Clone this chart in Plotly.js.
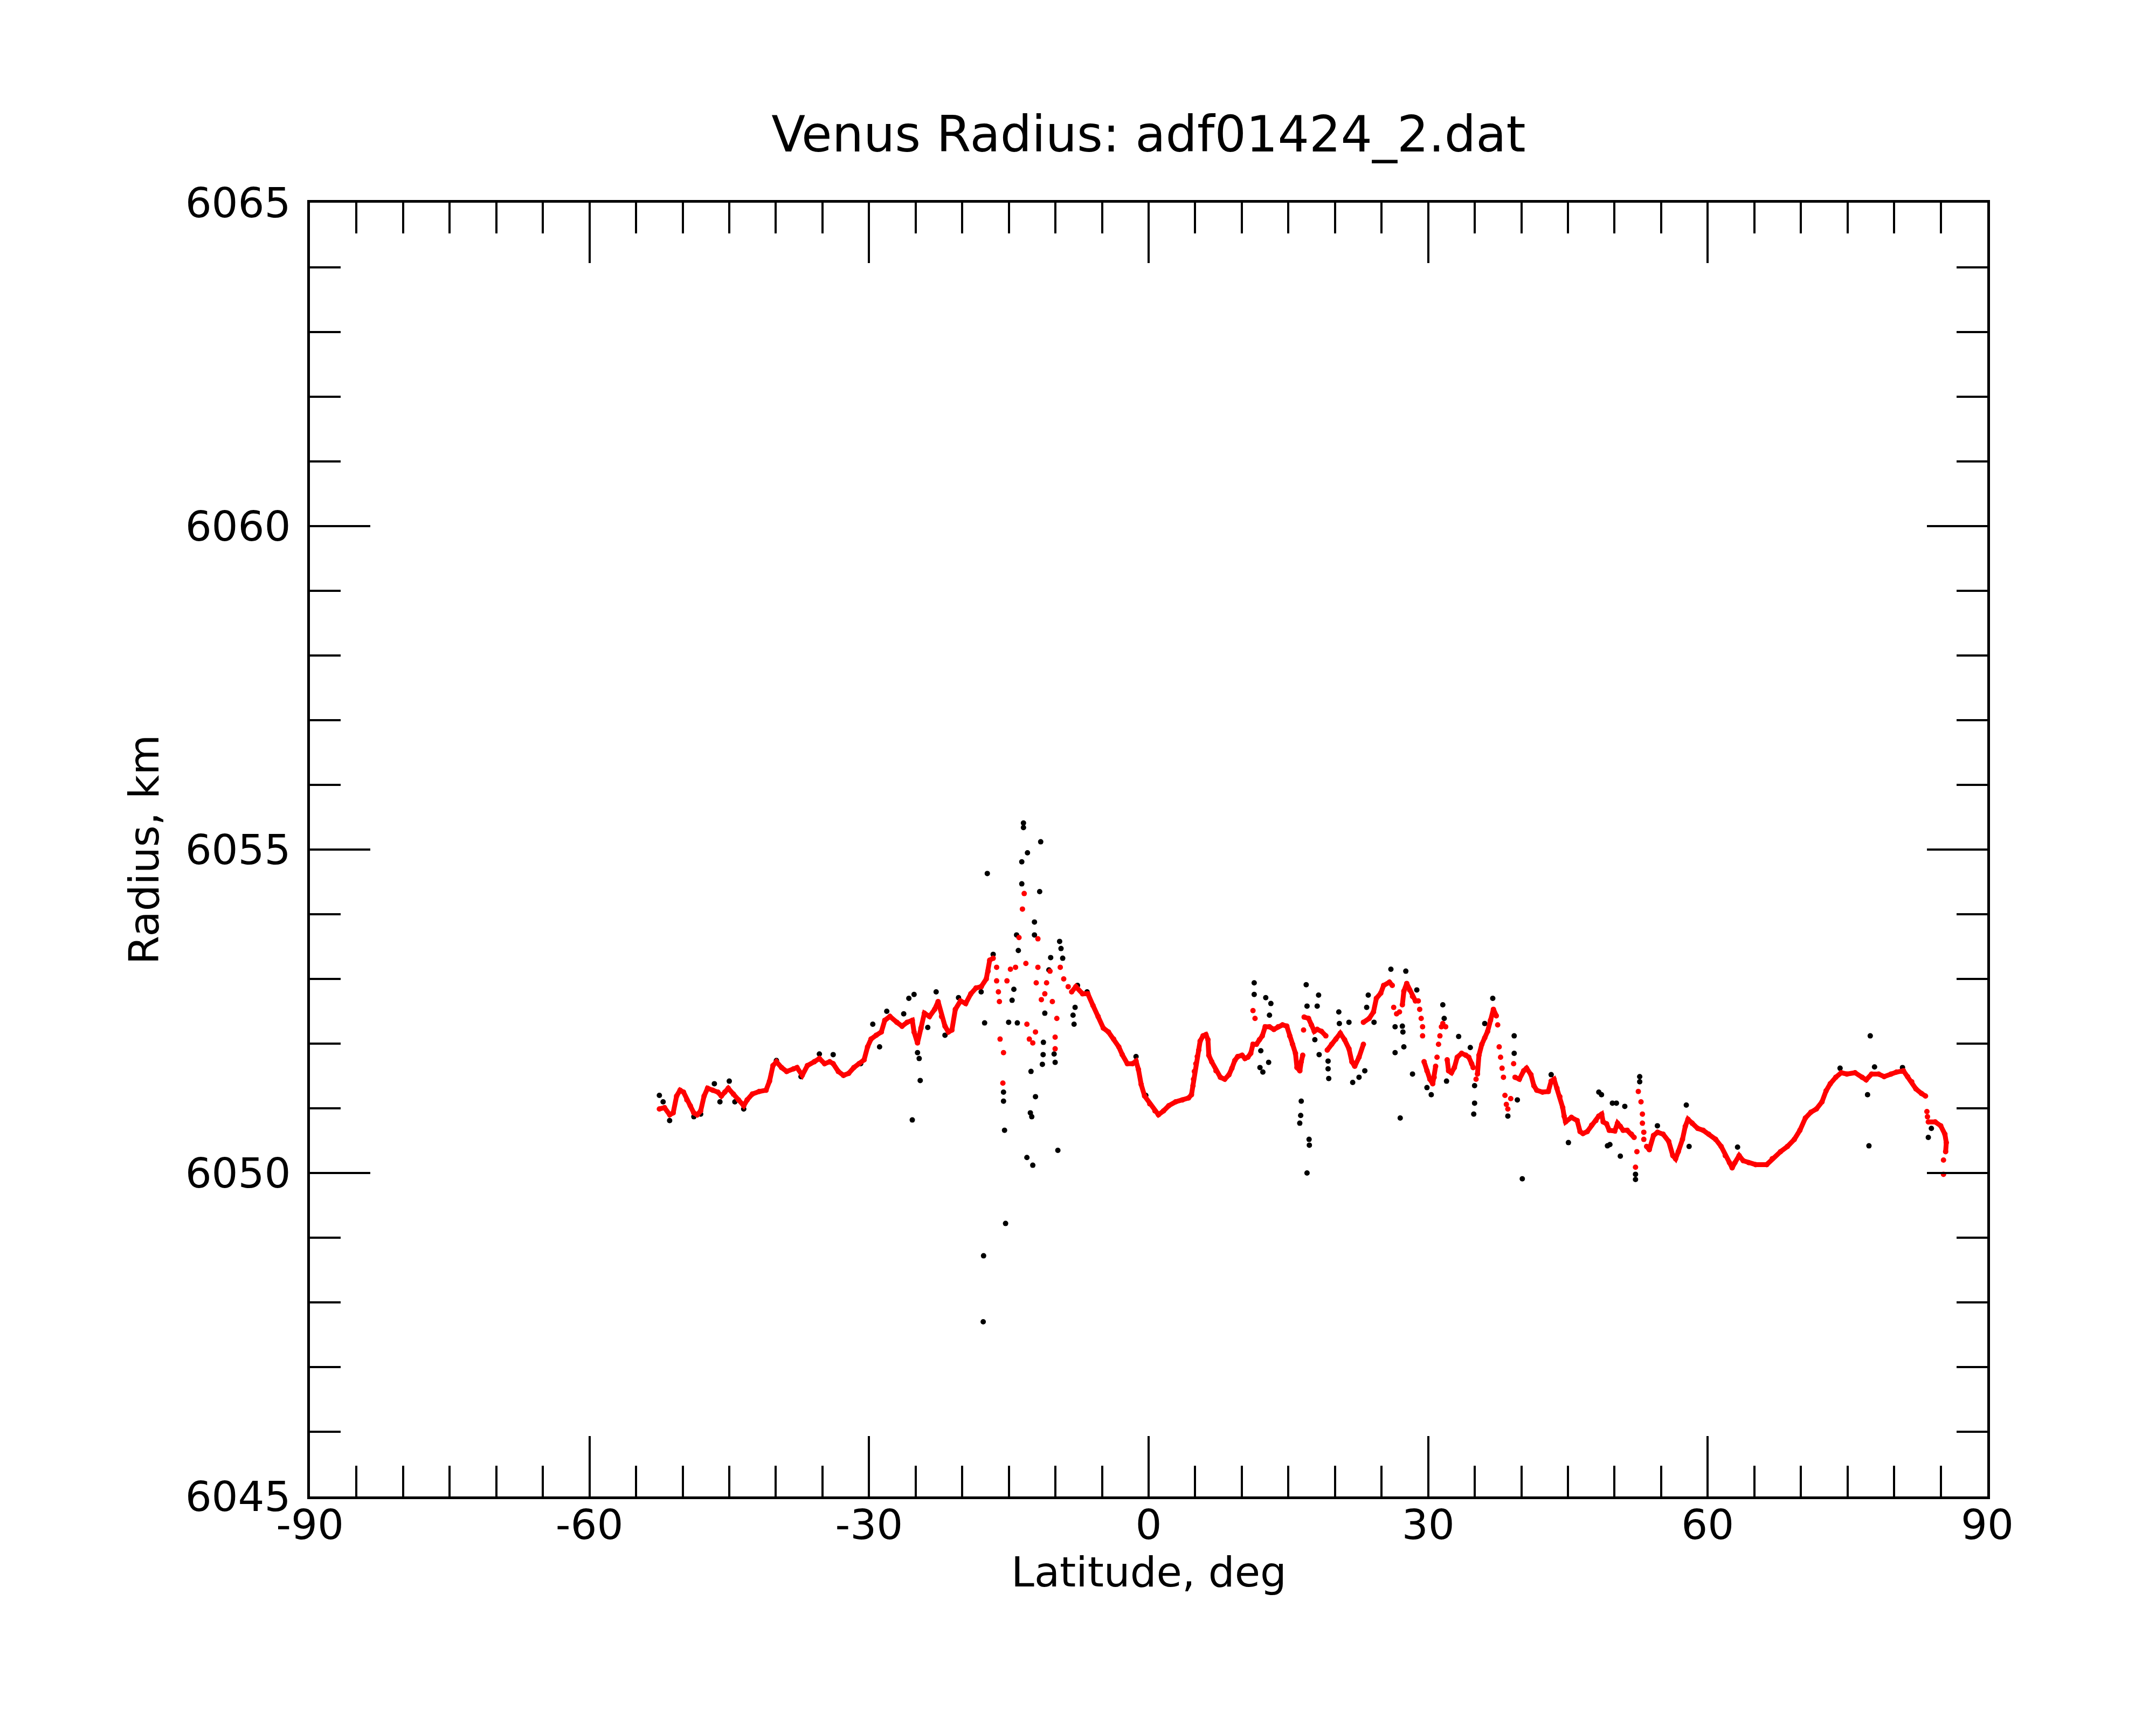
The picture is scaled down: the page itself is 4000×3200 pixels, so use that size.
<!DOCTYPE html>
<html>
<head>
<meta charset="utf-8">
<script src="https://cdn.plot.ly/plotly-3.0.1.min.js"></script>
<style>html,body{margin:0;padding:0;background:#fff;}</style>
</head>
<body>
<div id="chart" style="width:4000px;height:3200px;"></div>
<script>
// ---------- tick labels ----------
const xTickVals = [-90, -60, -30, 0, 30, 60, 90];
const xTickText = ['-90', '-60', '-30', '0', '30', '60', '90'];
const yTickVals = [6045, 6050, 6055, 6060, 6065];
const yTickText = ['6045', '6050', '6055', '6060', '6065'];

// ---------- filtered profile (red), continuous stretches ----------
const redALat = [-52.50,-51.95,-51.39,-51.02,-50.65,-50.28,-49.91,-49.55,-49.18,-48.81,-48.44,-48.07,-47.70,-47.33,-46.78,-46.22,-45.85,-45.48,-45.11,-44.56,-44.01,-43.45,-43.08,-42.53,-41.79,-41.05,-40.68,-40.31,-39.94,-39.39,-38.84,-38.10,-37.73,-37.17,-36.62,-35.88,-35.33,-34.77,-34.22,-33.85,-33.30,-32.74,-32.19,-31.63,-31.08,-30.53,-30.16,-29.79,-29.23,-28.68,-28.31,-27.76,-27.02,-26.46,-25.91,-25.36,-25.17,-24.80,-24.43,-24.06,-23.51,-22.96,-22.59,-22.22,-21.85,-21.48,-21.11,-20.74,-20.19,-19.63,-19.08,-18.52,-17.97,-17.42,-17.23,-17.05,-16.68];
const redAR = [6050.99,6051.01,6050.90,6050.93,6051.19,6051.28,6051.25,6051.13,6051.04,6050.93,6050.90,6050.96,6051.19,6051.31,6051.28,6051.25,6051.19,6051.25,6051.31,6051.22,6051.13,6051.04,6051.13,6051.22,6051.26,6051.28,6051.42,6051.66,6051.72,6051.63,6051.57,6051.61,6051.63,6051.51,6051.66,6051.72,6051.77,6051.69,6051.72,6051.69,6051.57,6051.51,6051.54,6051.63,6051.69,6051.75,6051.95,6052.07,6052.13,6052.18,6052.36,6052.42,6052.33,6052.27,6052.33,6052.36,6052.18,6052.01,6052.24,6052.47,6052.42,6052.53,6052.65,6052.42,6052.27,6052.18,6052.21,6052.53,6052.66,6052.62,6052.77,6052.86,6052.88,6053.00,6053.12,6053.29,6053.32];

const redBLat = [-8.26,-7.81,-7.08,-6.52,-5.97,-5.42,-4.86,-4.31,-3.75,-3.20,-2.83,-2.28,-1.72,-1.35,-1.09,-0.80,-0.43,0.12,0.68,1.05,1.60,2.16,2.90,3.63,4.29,4.60,4.76,4.82,4.91,5.07,5.22,5.38,5.53,5.84,6.15,6.37,6.46,6.77,7.23,7.70,8.17,8.63,8.94,9.25,9.56,10.03,10.34,10.65,10.96,11.20,11.57,11.89,12.20,12.51,12.97,13.44,13.90,14.37,14.83,15.14,15.45,15.76,15.92,16.23,16.38,16.54];
const redBR = [6052.80,6052.88,6052.77,6052.77,6052.59,6052.42,6052.24,6052.18,6052.07,6051.95,6051.83,6051.69,6051.69,6051.73,6051.60,6051.37,6051.19,6051.07,6050.96,6050.90,6050.96,6051.04,6051.10,6051.13,6051.16,6051.21,6051.35,6051.45,6051.57,6051.69,6051.80,6051.90,6052.04,6052.12,6052.14,6052.06,6051.82,6051.72,6051.58,6051.48,6051.45,6051.52,6051.62,6051.74,6051.80,6051.82,6051.77,6051.79,6051.85,6051.99,6051.99,6052.06,6052.12,6052.26,6052.26,6052.22,6052.26,6052.29,6052.27,6052.12,6051.99,6051.85,6051.63,6051.58,6051.72,6051.82];

const redCLat = [16.69,17.16,17.47,17.78,18.09,18.55,19.02];
const redCR = [6052.41,6052.39,6052.29,6052.19,6052.22,6052.19,6052.12];
const redDLat = [19.17,19.64,20.10,20.57,21.03,21.50,21.81,22.12,22.58,23.05];
const redDR = [6051.90,6051.99,6052.07,6052.16,6052.06,6051.92,6051.72,6051.65,6051.79,6051.99];
const redELat = [23.05,23.67,24.13,24.44,24.91,25.22,25.84,26.15];
const redER = [6052.33,6052.39,6052.49,6052.70,6052.78,6052.90,6052.95,6052.90];
const redFLat = [27.23,27.39,27.70,28.01,28.32,28.63,28.94];
const redFR = [6052.60,6052.81,6052.93,6052.83,6052.73,6052.66,6052.66];
const redGLat = [29.56,29.87,30.18,30.49,30.64,30.80];
const redGR = [6051.72,6051.58,6051.45,6051.38,6051.48,6051.65];
const redHLat = [32.04,32.19,32.50,32.81,33.12,33.59,34.05,34.36,34.67,34.83];
const redHR = [6051.75,6051.58,6051.55,6051.63,6051.79,6051.85,6051.82,6051.79,6051.69,6051.63];
const redILat = [35.29,35.45,35.76,36.07,36.38,36.69,37.00,37.31];
const redIR = [6051.53,6051.82,6051.99,6052.09,6052.19,6052.36,6052.53,6052.43];
const redJLat = [39.32,39.79,40.25,40.56,41.03,41.34,41.65,42.27,42.89,43.20,43.51,43.82,44.13,44.44,44.59,44.75,45.37,45.99,46.30,46.61,47.07,47.54,48.00,48.31,48.62,48.78,49.14,49.43,50.03,50.32,50.62,50.92,51.36,51.81,52.10];
const redJR = [6051.48,6051.45,6051.58,6051.62,6051.52,6051.35,6051.28,6051.25,6051.26,6051.42,6051.45,6051.31,6051.18,6051.01,6050.88,6050.79,6050.86,6050.81,6050.64,6050.61,6050.64,6050.74,6050.81,6050.88,6050.91,6050.79,6050.76,6050.66,6050.65,6050.77,6050.72,6050.66,6050.66,6050.60,6050.55];
const redKLat = [53.44,53.73,54.18,54.62,55.21,55.81,56.25,56.55,56.84,57.29,57.59,57.88,58.33,58.92,59.51,60.11,60.85,61.44,61.88,62.33,62.62,62.92,63.37,63.81,64.40,65.14,66.33,66.92,67.81,68.55,69.29,69.89,70.48,71.07,71.66,72.26,72.70,73.15,73.74,74.33,74.93,75.81,76.56,77.00,77.59,78.33,78.93,79.67,80.26,81.00,81.45,81.89,82.34,82.93,83.37];
const redKR = [6050.41,6050.36,6050.58,6050.63,6050.60,6050.49,6050.27,6050.22,6050.33,6050.52,6050.72,6050.83,6050.77,6050.69,6050.66,6050.60,6050.52,6050.41,6050.27,6050.16,6050.08,6050.16,6050.27,6050.19,6050.16,6050.13,6050.13,6050.22,6050.33,6050.41,6050.52,6050.66,6050.85,6050.94,6050.99,6051.10,6051.27,6051.38,6051.48,6051.55,6051.53,6051.55,6051.48,6051.44,6051.53,6051.53,6051.49,6051.53,6051.56,6051.58,6051.49,6051.41,6051.30,6051.23,6051.19];
const redLLat = [83.67,84.41,85.00,85.45,85.60,85.53];
const redLR = [6050.79,6050.79,6050.73,6050.60,6050.47,6050.33];

// ---------- filtered profile (red), isolated points ----------
const redSpotALat = [-16.31,-16.31,-16.12,-16.01,-15.94,-15.57,-15.64,-15.20,-14.83,-14.28,-13.91,-13.54,-13.35,-13.17,-13.06,-12.80,-12.43,-12.14,-12.06,-11.88,-11.88,-11.51,-11.14,-10.95,-10.58,-10.33,-9.85,-10.03,-10.03,-9.48,-9.11,-8.63];
const redSpotAR = [6053.18,6052.97,6052.80,6052.65,6052.07,6051.86,6051.39,6052.97,6053.15,6053.18,6053.64,6054.08,6054.32,6053.24,6052.30,6052.07,6052.01,6052.18,6052.94,6053.62,6053.18,6052.68,6052.77,6052.94,6053.12,6052.65,6052.39,6052.10,6051.92,6053.18,6053.00,6052.88];
const redSpotBLat = [11.20,11.42,16.63,26.30,26.61,26.92,29.09,29.25,29.40,29.40,30.95,31.11,31.26,31.42,31.57,31.88,35.14,37.46,37.62,37.77,37.93,38.08,38.24,38.39,38.55,38.86,39.17];
const redSpotBR = [6052.51,6052.39,6052.21,6052.56,6052.46,6052.49,6052.53,6052.39,6052.26,6052.12,6051.79,6051.99,6052.12,6052.26,6052.31,6052.26,6051.45,6052.29,6051.95,6051.79,6051.62,6051.48,6051.20,6051.06,6050.99,6051.15,6051.69];
const redSpotCLat = [52.40,52.25,52.55,52.84,52.99,52.99,53.14,53.14,83.52,83.58,85.30,85.30];
const redSpotCR = [6050.33,6050.09,6051.26,6051.10,6050.91,6050.77,6050.63,6050.52,6050.95,6050.87,6050.20,6049.98];

// ---------- raw radii (black) that stand off the filtered profile ----------
const blackALat = [-52.5,-52.1,-51.4,-48.8,-48.07,-46.6,-46.0,-45.0,-43.45,-44.4,-39.94,-37.3,-35.33,-33.85,-32.74,-30.9,-29.6,-28.87,-28.1,-26.28,-25.73,-25.17,-24.80,-24.62,-24.51,-25.36,-22.8,-23.7,-21.85,-20.4,-17.97,-17.97,
  -17.31,-17.60,-15.02,-14.65,-14.46,-14.09,-13.98,-14.17,-13.61,-13.61,-13.43,-13.43,-13.00,-11.58,-11.69,-12.25,-12.25,-15.57,-15.57,-15.46,-15.35,-17.71,-17.75,-13.06,-12.43,-12.69,-12.54,-12.14,-12.62,-11.40,-11.32,-11.29,-11.14,-10.70,-10.51,-10.14,-10.03,-9.74,-9.55,-9.40,-9.22,-8.00,-8.11,-7.89,-7.63,-6.60,-16.68,-1.35,-0.3];
const blackAR = [6051.20,6051.10,6050.81,6050.87,6050.91,6051.38,6051.10,6051.42,6050.99,6051.10,6051.74,6051.49,6051.84,6051.83,6051.51,6051.69,6052.30,6051.95,6052.50,6052.46,6052.70,6052.76,6051.86,6051.77,6051.43,6050.82,6052.80,6052.25,6052.13,6052.71,6052.80,6052.88,
  6054.63,6052.32,6052.33,6052.67,6052.84,6052.32,6053.44,6053.68,6054.47,6054.81,6055.41,6055.34,6054.95,6055.12,6054.35,6053.88,6053.68,6051.25,6051.11,6050.66,6049.22,6048.72,6047.70,6050.24,6050.12,6050.93,6050.87,6051.18,6051.57,6051.68,6051.83,6052.02,6052.47,6053.14,6053.33,6051.84,6051.71,6050.35,6053.58,6053.47,6053.32,6052.30,6052.44,6052.56,6052.90,6052.80,6053.38,6051.80,6051.20];
const blackBLat = [11.33,11.33,12.57,13.12,12.97,11.95,12.26,12.88,12.04,16.91,17.00,18.24,18.09,16.38,16.32,16.22,17.22,17.25,17.00,18.30,17.84,19.33,19.26,19.26,20.41,20.47,21.50,21.90,22.58,23.20,23.40,23.57,24.19,26.00,27.60,26.45,27.23,27.29,27.39,26.45,27.00,28.32,28.78,31.57,31.72,31.97,30.33,29.87,33.27,34.52,34.98,34.98,34.89,36.07,36.93,39.23,39.23,39.57,38.55,40.10,43.20,45.05,48.31,49.24,49.77];
const blackBR = [6052.94,6052.76,6052.71,6052.62,6052.44,6051.63,6051.56,6051.71,6051.89,6052.91,6052.58,6052.75,6052.58,6051.11,6050.89,6050.77,6050.52,6050.43,6050.00,6051.83,6052.06,6051.46,6051.61,6051.73,6052.49,6052.31,6052.33,6051.40,6051.48,6051.58,6052.56,6052.75,6052.33,6053.15,6053.12,6052.26,6052.27,6052.18,6051.95,6051.86,6050.85,6051.53,6052.83,6052.60,6052.39,6051.42,6051.21,6051.32,6052.11,6051.94,6051.35,6051.08,6050.91,6052.31,6052.70,6052.12,6051.85,6051.13,6050.88,6049.91,6051.52,6050.47,6051.25,6050.42,6051.08];
const blackCLat = [48.6,49.5,50.62,50.2,51.1,52.7,52.7,52.25,52.25,54.6,57.7,58.0,63.2,77.15,77.3,77.44,83.67,84.0,74.2,77.9,80.9];
const blackCR = [6051.21,6050.44,6050.26,6051.08,6051.03,6051.49,6051.41,6049.90,6049.98,6050.73,6051.05,6050.41,6050.40,6051.21,6050.42,6052.12,6050.55,6050.69,6051.62,6051.64,6051.63];

// ---------- assemble ----------
const redChains = [[redALat,redAR],[redBLat,redBR],[redCLat,redCR],[redDLat,redDR],[redELat,redER],[redFLat,redFR],[redGLat,redGR],[redHLat,redHR],[redILat,redIR],[redJLat,redJR],[redKLat,redKR],[redLLat,redLR]];
const chainX = [], chainY = [];
redChains.forEach(function(c){
  const n = Math.min(c[0].length, c[1].length);
  for (let i = 0; i < n; i++) { chainX.push(c[0][i]); chainY.push(c[1][i]); }
  chainX.push(null); chainY.push(null);
});
const spotX = redSpotALat.concat(redSpotBLat, redSpotCLat);
const spotY = redSpotAR.concat(redSpotBR, redSpotCR);
const blkX = blackALat.concat(blackBLat, blackCLat);
const blkY = blackAR.concat(blackBR, blackCR);

const FONT = 'DejaVu Sans, Verdana, sans-serif';

const traces = [
  {x: blkX, y: blkY, type: 'scatter', mode: 'markers',
   marker: {color: '#000000', size: 10}, hoverinfo: 'skip'},
  {x: chainX, y: chainY, type: 'scatter', mode: 'lines+markers', connectgaps: false,
   line: {color: '#ff0000', width: 9}, marker: {color: '#ff0000', size: 10}, hoverinfo: 'skip'},
  {x: spotX, y: spotY, type: 'scatter', mode: 'markers',
   marker: {color: '#ff0000', size: 10}, hoverinfo: 'skip'}
];

const axisCommon = {
  showgrid: false, zeroline: false, showline: true, linecolor: '#000', linewidth: 5,
  mirror: 'ticks', ticks: 'inside', tickcolor: '#000', tickwidth: 4, ticklen: 112,
  tickfont: {family: FONT, size: 77, color: '#000'}
};

const layout = {
  width: 4000, height: 3200,
  paper_bgcolor: '#fff', plot_bgcolor: '#fff',
  showlegend: false,
  margin: {l: 575, r: 313, t: 376, b: 424, pad: 0},
  title: {text: 'Venus Radius: adf01424_2.dat', x: 0.5, xref: 'paper', xanchor: 'center',
          y: 0.9223, yref: 'container', yanchor: 'middle',
          font: {family: FONT, size: 92, color: '#000'}},
  xaxis: Object.assign({}, axisCommon, {
    range: [-90, 90], tickmode: 'array', tickvals: xTickVals, ticktext: xTickText,
    ticklabelstandoff: -18,
    minor: {tickmode: 'linear', tick0: -90, dtick: 5, ticks: 'inside', ticklen: 57, tickwidth: 4, tickcolor: '#000', showgrid: false},
    title: {text: ''},
    automargin: false
  }),
  yaxis: Object.assign({}, axisCommon, {
    range: [6045, 6065], tickmode: 'array', tickvals: yTickVals, ticktext: yTickText,
    ticklabelstandoff: 15,
    minor: {tickmode: 'linear', tick0: 6045, dtick: 1, ticks: 'inside', ticklen: 57, tickwidth: 4, tickcolor: '#000', showgrid: false},
    title: {text: 'Radius, km', standoff: 25, font: {family: FONT, size: 77, color: '#000'}},
    automargin: false
  }),
  annotations: [
    {text: 'Latitude, deg', xref: 'paper', yref: 'paper', x: 0.5, y: -0.0585,
     xanchor: 'center', yanchor: 'middle', showarrow: false,
     font: {family: FONT, size: 77, color: '#000'}}
  ]
};

Plotly.newPlot('chart', traces, layout, {staticPlot: true, displayModeBar: false});
</script>
</body>
</html>
